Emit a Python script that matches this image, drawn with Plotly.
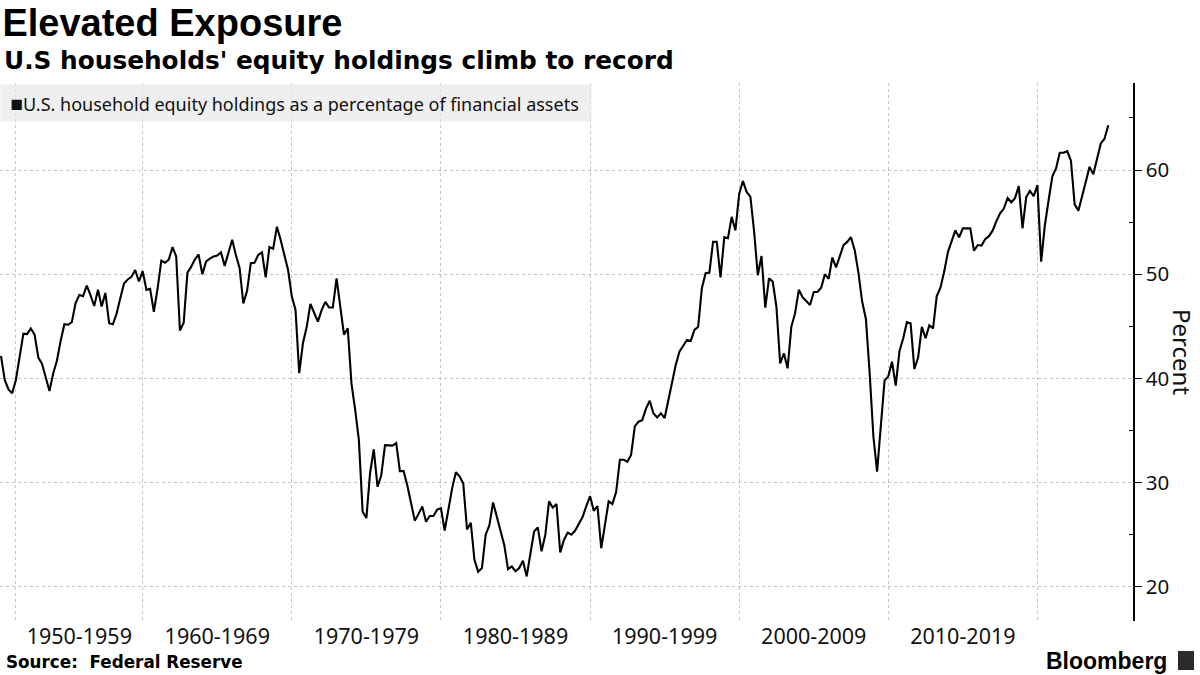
import pandas as pd
import plotly.graph_objects as go

# U.S. household equity holdings as % of financial assets, quarterly
pct = [
    42.15, 39.85,
    38.95, 38.57, 39.85, 42.1,
    44.3, 44.26, 44.8, 44.2,
    42.0, 41.4, 40.1, 38.8,
    40.5, 41.7, 43.6, 45.2,
    45.15, 45.4, 47.2, 48.0,
    47.9, 48.9, 48.0, 46.95,
    48.5, 46.9, 48.2, 45.3,
    45.2, 46.2, 47.7, 49.1,
    49.5, 49.75, 50.4, 49.3,
    50.3, 48.5, 48.6, 46.4,
    48.65, 51.3, 51.1, 51.4,
    52.6, 51.7, 44.6, 45.35,
    50.15, 50.7, 51.4, 51.9,
    50.0, 51.2, 51.5, 51.7,
    51.8, 52.1, 50.8, 52.0,
    53.3, 51.85, 50.6, 47.2,
    48.4, 51.05, 51.1, 51.85,
    52.1, 49.7, 52.6, 52.45,
    54.55, 53.3, 51.85, 50.4,
    47.85, 46.6, 40.5, 43.4,
    44.95, 47.15, 46.3, 45.45,
    46.55, 47.35, 46.8, 46.8,
    49.6, 46.7, 44.2, 44.8,
    39.5, 37.0, 34.1, 27.2,
    26.6, 30.9, 33.2, 29.6,
    30.7, 33.6, 33.6, 33.55,
    33.8, 31.1, 31.1, 29.7,
    28.0, 26.35, 27.0, 27.7,
    26.25, 26.8, 26.8, 27.4,
    27.55, 25.4, 27.4, 29.45,
    31.0, 30.6, 29.9, 25.5,
    26.15, 22.6, 21.45, 21.8,
    25.0, 25.9, 28.1, 26.7,
    25.45, 24.0, 21.7, 21.95,
    21.5, 21.8, 22.5, 21.0,
    23.2, 25.3, 25.7, 23.4,
    25.0, 28.2, 27.6, 27.95,
    23.3, 24.5, 25.2, 25.0,
    25.4, 26.0, 26.7, 27.75,
    28.7, 27.3, 27.75, 23.7,
    25.8, 28.2, 27.95, 29.1,
    32.2, 32.2, 32.0, 32.65,
    35.4, 35.85, 36.0, 37.1,
    37.85, 36.65, 36.25, 36.65,
    36.2, 37.8, 39.4, 41.3,
    42.6, 43.1, 43.7, 43.6,
    44.65, 44.95, 48.65, 50.1,
    50.15, 53.1, 53.1, 49.7,
    53.55, 53.45, 55.5, 54.2,
    57.7, 58.95, 57.9, 57.45,
    54.1, 49.9, 51.75, 46.8,
    49.6, 49.3, 46.9, 41.45,
    42.4, 40.97, 44.95, 46.25,
    48.5, 47.8, 47.45, 47.05,
    48.3, 48.3, 48.7, 50.0,
    49.55, 51.6, 50.65, 51.85,
    52.8, 53.1, 53.55, 52.3,
    50.1, 47.35, 45.7, 40.5,
    34.4, 31.05, 35.7, 39.8,
    40.2, 41.6, 39.3, 42.6,
    43.85, 45.4, 45.3, 40.9,
    42.0, 44.95, 43.85, 45.1,
    44.8, 47.9, 48.7, 50.25,
    52.15, 53.2, 54.2, 53.55,
    54.4, 54.4, 54.4, 52.25,
    52.8, 52.75, 53.35, 53.65,
    54.2, 55.1, 55.85, 56.3,
    57.3, 56.9, 57.3, 58.45,
    54.4, 57.4, 58.0, 57.5,
    58.55, 51.2, 54.7, 57.1,
    59.4, 60.15, 61.65, 61.65,
    61.8, 60.9, 56.7, 56.1,
    57.45, 58.9, 60.3, 59.6,
    61.1, 62.55, 63.0, 64.3,
]
dates = pd.date_range(start="1950-07-01", periods=len(pct), freq="QS")

grid_dates = ["1951-07-01", "1960-01-01", "1970-01-01", "1980-01-01",
              "1990-01-01", "2000-01-01", "2010-01-01", "2020-01-01"]
label_dates = ["1955-10-01", "1965-01-01", "1975-01-01", "1985-01-01",
               "1995-01-01", "2005-01-01", "2015-01-01"]
decade_labels = ["1950-1959", "1960-1969", "1970-1979", "1980-1989",
                 "1990-1999", "2000-2009", "2010-2019"]
y_ticks = [20, 30, 40, 50, 60]
y_minor = [25, 35, 45, 55, 65]

x_range = ["1950-06-07", "2026-05-30"]
y_range = [16.72, 68.35]

TXT = "#111111"
GRID = "#c4c4c4"
FONT = "Noto Sans"

fig = go.Figure()
fig.add_trace(go.Scatter(
    x=dates, y=pct, mode="lines",
    line=dict(color="black", width=2.1),
    showlegend=False, hoverinfo="skip",
))

fig.update_layout(
    width=1200, height=675,
    margin=dict(l=0, r=67, t=83, b=54),
    paper_bgcolor="white", plot_bgcolor="white",
    font=dict(family=FONT, color=TXT),
    title=dict(
        text="<b>Elevated Exposure</b>",
        font=dict(family="Liberation Sans", size=38, color="black"),
        x=0.002, xanchor="left", xref="container",
        y=1 - 23 / 675, yanchor="middle", yref="container",
    ),
    xaxis=dict(
        type="date", range=x_range,
        tickmode="array", tickvals=label_dates, ticktext=decade_labels,
        ticks="", showgrid=False,
        showline=False, zeroline=False,
        tickfont=dict(family=FONT, size=21.5, color=TXT),
        minor=dict(tickmode="array", tickvals=grid_dates, ticks="",
                   showgrid=True, gridcolor=GRID, griddash="dot", gridwidth=1),
    ),
    yaxis=dict(
        side="right", range=y_range,
        tickmode="array", tickvals=y_ticks,
        ticks="outside", ticklen=7, tickwidth=1, tickcolor="black",
        showline=True, linecolor="black", linewidth=1.5,
        showgrid=True, gridcolor=GRID, griddash="dot", gridwidth=1,
        zeroline=False,
        tickfont=dict(family=FONT, size=20.5, color=TXT),
        minor=dict(tickmode="array", tickvals=y_minor, ticks="inside",
                   ticklen=4, tickwidth=1, tickcolor="black", showgrid=False),
    ),
)

annotations = [
    dict(text="<b>U.S households' equity holdings climb to record</b>",
         xref="paper", yref="paper", x=0.002, y=(621 - 60) / 538,
         xanchor="left", yanchor="middle", showarrow=False,
         font=dict(family="DejaVu Sans", size=24.8, color="black")),
    dict(text="  <span style='font-size:21px'>■</span>U.S. household equity holdings as a percentage of financial assets",
         xref="paper", yref="paper", x=0.0, y=(621 - 103) / 538,
         xanchor="left", yanchor="middle", showarrow=False, align="left",
         width=590, height=36, bgcolor="rgba(232,232,232,0.7)", borderpad=0,
         font=dict(family=FONT, size=18, color=TXT)),
    dict(text="Percent", textangle=90,
         xref="paper", yref="paper", x=1183 / 1133, y=(621 - 352) / 538,
         xanchor="center", yanchor="middle", showarrow=False,
         font=dict(family=FONT, size=24, color=TXT)),
    dict(text="<b>Source:  Federal Reserve</b>",
         xref="paper", yref="paper", x=4 / 1133, y=(621 - 662) / 538,
         xanchor="left", yanchor="middle", showarrow=False,
         font=dict(family="DejaVu Sans", size=16.8, color="black")),
    dict(text="<b>Bloomberg</b>",
         xref="paper", yref="paper", x=1169 / 1133, y=(621 - 661) / 538,
         xanchor="right", yanchor="middle", showarrow=False,
         font=dict(family="Liberation Sans", size=23, color="black")),
]
fig.update_layout(annotations=annotations)

# small logo block next to the wordmark
fig.add_shape(type="rect", xref="paper", yref="paper",
              x0=1178 / 1133, x1=1194 / 1133,
              y0=(621 - 670) / 538, y1=(621 - 651) / 538,
              fillcolor="#2b2b2b", line=dict(width=0), layer="above")

fig.write_html("out.html", config={"displayModeBar": False},
               post_script="document.body.style.margin='0';")
